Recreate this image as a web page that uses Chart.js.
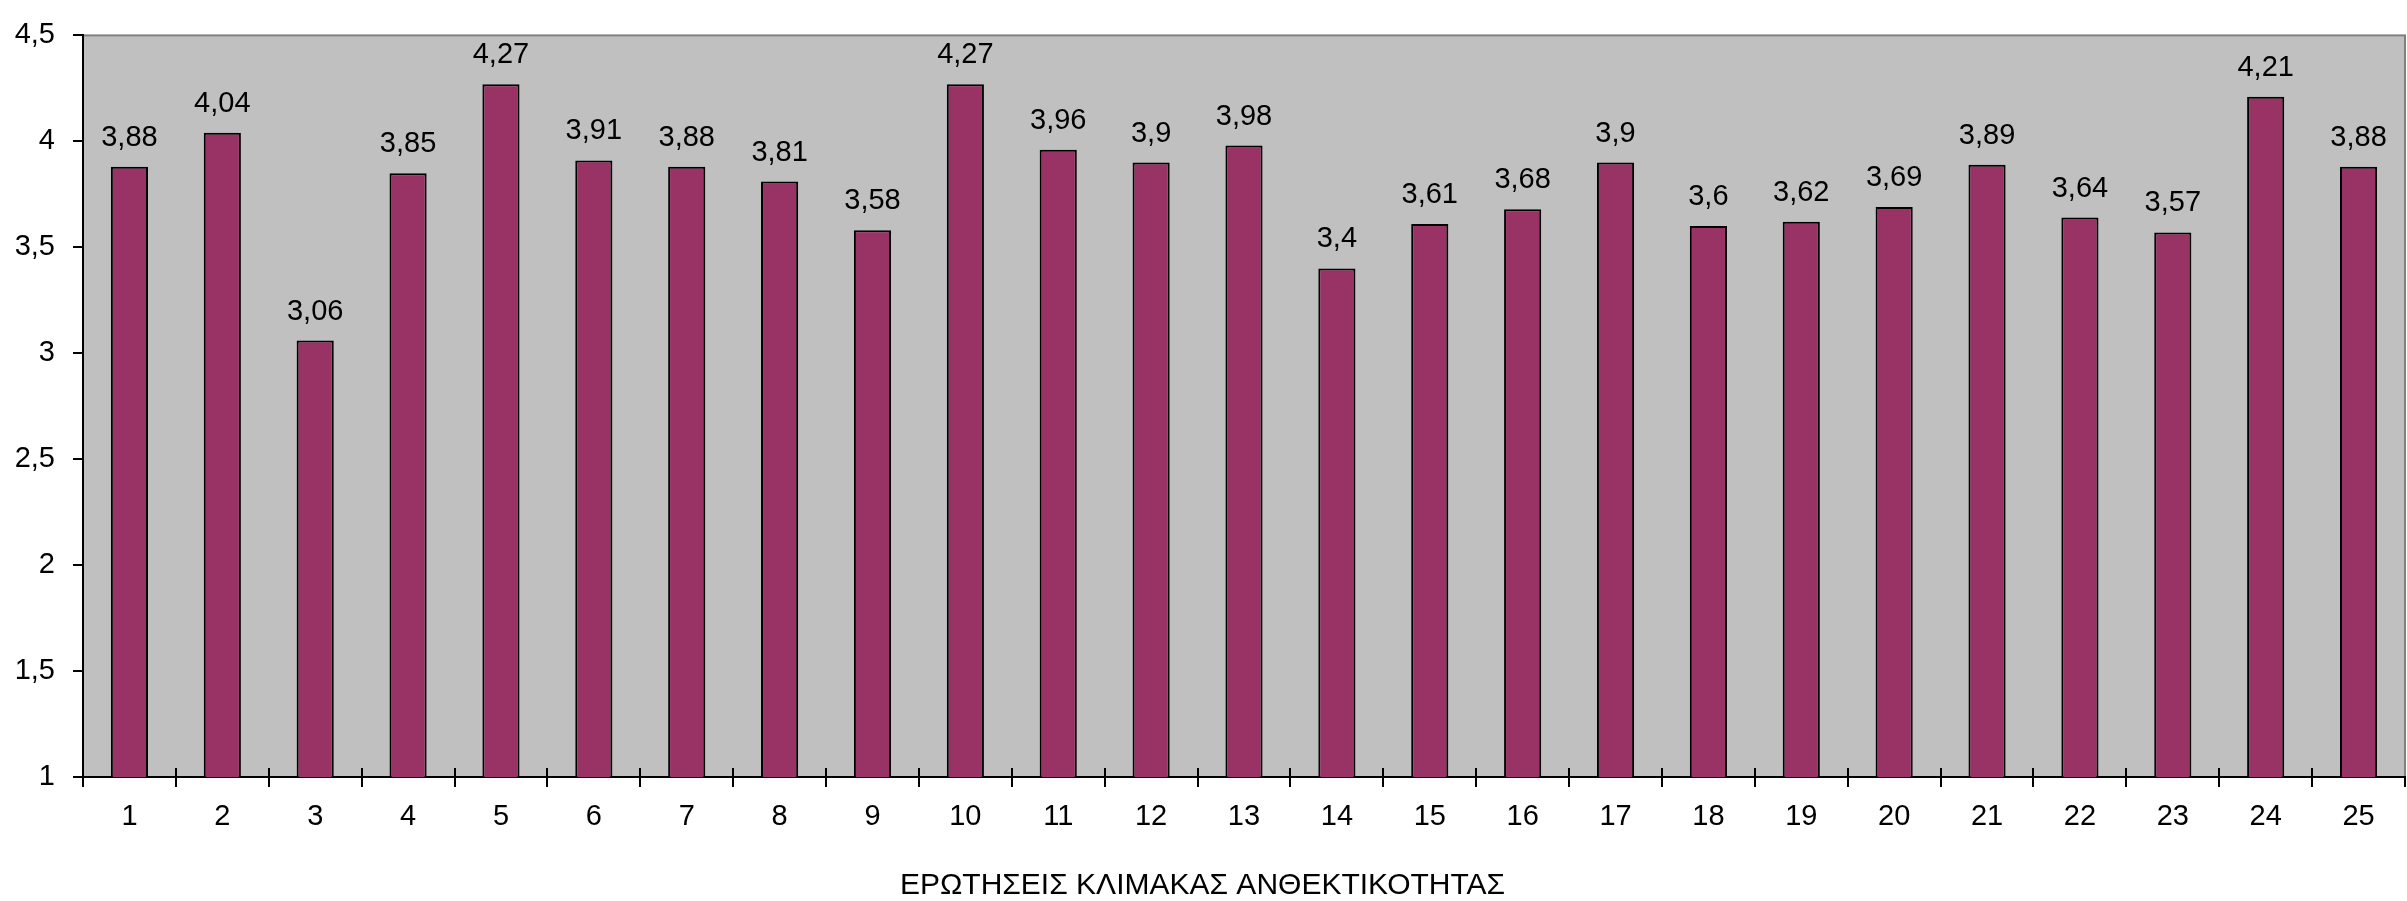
<!DOCTYPE html>
<html>
<head>
<meta charset="utf-8">
<title>Ερωτήσεις κλίμακας ανθεκτικότητας</title>
<script src="https://cdn.jsdelivr.net/npm/chart.js@4.4.1/dist/chart.umd.min.js"></script>
<style>
    html, body { margin: 0; padding: 0; background: #ffffff; }
    #wrap { width: 2407px; height: 901px; }
</style>
</head>
<body>
<div id="wrap"><canvas id="resilienceChart" width="2407" height="901"></canvas></div>
<script>
const questions = ['1','2','3','4','5','6','7','8','9','10','11','12','13','14','15','16','17','18','19','20','21','22','23','24','25'];
const meanScores = [3.88, 4.04, 3.06, 3.85, 4.27, 3.91, 3.88, 3.81, 3.58, 4.27, 3.96, 3.9, 3.98, 3.4, 3.61, 3.68, 3.9, 3.6, 3.62, 3.69, 3.89, 3.64, 3.57, 4.21, 3.88];
const yTicks = [1, 1.5, 2, 2.5, 3, 3.5, 4, 4.5];
const axisTitle = 'ΕΡΩΤΗΣΕΙΣ ΚΛΙΜΑΚΑΣ ΑΝΘΕΚΤΙΚΟΤΗΤΑΣ';

const FONT = "'Liberation Sans', Arial, sans-serif";
const fmt = v => String(v).replace('.', ',');

// grey plot area + thin frame, like the old Excel look
const plotArea = {
    id: 'plotArea',
    beforeDraw(chart) {
        const { ctx, chartArea: a } = chart;
        ctx.save();
        ctx.fillStyle = '#c0c0c0';
        ctx.fillRect(a.left, a.top, a.right - a.left, a.bottom - a.top);
        ctx.strokeStyle = '#808080';
        ctx.lineWidth = 2;
        ctx.strokeRect(a.left, a.top, a.right - a.left, a.bottom - a.top);
        ctx.restore();
    },
    afterDraw(chart) {
        // inner half of the category ticks, crossing the x axis
        const { ctx, chartArea: a } = chart;
        const x = chart.scales.x;
        ctx.save();
        ctx.strokeStyle = '#000';
        ctx.lineWidth = 2;
        for (let i = 1; i < questions.length; i++) {
            const px = Math.round((x.getPixelForValue(i - 1) + x.getPixelForValue(i)) / 2);
            ctx.beginPath();
            ctx.moveTo(px, a.bottom - 9);
            ctx.lineTo(px, a.bottom);
            ctx.stroke();
        }
        ctx.restore();
    }
};

const valueLabels = {
    id: 'valueLabels',
    afterDatasetsDraw(chart) {
        const { ctx } = chart;
        const meta = chart.getDatasetMeta(0);
        ctx.save();
        ctx.font = '29px ' + FONT;
        ctx.fillStyle = '#000';
        ctx.textAlign = 'center';
        ctx.textBaseline = 'alphabetic';
        meta.data.forEach((bar, i) => {
            ctx.fillText(fmt(meanScores[i]), bar.x, bar.y - 21);
        });
        ctx.restore();
    }
};

new Chart(document.getElementById('resilienceChart'), {
    type: 'bar',
    data: {
        labels: questions,
        datasets: [{
            data: meanScores,
            backgroundColor: '#993366',
            borderColor: '#000000',
            borderWidth: 2,
            borderSkipped: false,
            categoryPercentage: 1,
            barPercentage: 0.4
        }]
    },
    options: {
        responsive: false,
        animation: false,
        devicePixelRatio: 1,
        layout: { padding: { top: 21, right: 2, left: 0, bottom: 0 } },
        plugins: {
            legend: { display: false },
            tooltip: { enabled: false },
            title: {
                display: true,
                text: axisTitle,
                position: 'bottom',
                color: '#000',
                font: { family: FONT, size: 30, weight: 'normal', lineHeight: 1 },
                padding: { top: 0, bottom: 0 }
            }
        },
        scales: {
            x: {
                grid: { offset: true, drawOnChartArea: false, color: '#000', lineWidth: 2, tickLength: 10 },
                border: { color: '#000', width: 2 },
                ticks: { color: '#000', font: { family: FONT, size: 29 }, padding: 13, maxRotation: 0, autoSkip: false },
                afterFit(scale) { scale.height = 94; }
            },
            y: {
                min: 1,
                max: 4.5,
                afterBuildTicks(scale) { scale.ticks = yTicks.map(v => ({ value: v })); },
                grid: { drawOnChartArea: false, color: '#000', lineWidth: 2, tickLength: 10 },
                border: { color: '#000', width: 2 },
                ticks: { color: '#000', font: { family: FONT, size: 29 }, padding: 18, callback: v => fmt(v) },
                afterFit(scale) { scale.width = 83; }
            }
        }
    },
    plugins: [plotArea, valueLabels]
});
</script>
</body>
</html>
